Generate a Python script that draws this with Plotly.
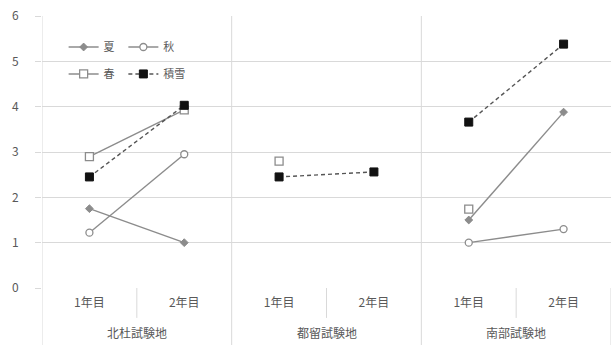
import plotly.graph_objects as go

# Sites and survey years (two years per site)
regions = ["北杜試験地", "都留試験地", "南部試験地"]
years = ["1年目", "2年目"]

# Values per (site, year), in the order 北杜1, 北杜2, 都留1, 都留2, 南部1, 南部2
summer = [1.75, 1.0, None, None, 1.5, 3.88]     # 夏
autumn = [1.22, 2.95, None, None, 1.0, 1.3]     # 秋
spring = [2.9, 3.93, 2.8, None, 1.74, None]     # 春
snow = [2.45, 4.03, 2.45, 2.56, 3.66, 5.38]     # 積雪

FONT = "Noto Sans CJK JP, Noto Sans, sans-serif"
TXT = "#595959"
GRID = "#d9d9d9"
LINE = "#8c8c8c"

series = [
    dict(name="夏", y=summer, legend="legend",
         marker=dict(symbol="diamond", size=6, color=LINE, line=dict(color=LINE, width=1)),
         line=dict(color=LINE, width=1.4)),
    dict(name="秋", y=autumn, legend="legend2",
         marker=dict(symbol="circle", size=7, color="white", line=dict(color=LINE, width=1.3)),
         line=dict(color=LINE, width=1.4)),
    dict(name="春", y=spring, legend="legend3",
         marker=dict(symbol="square", size=8, color="white", line=dict(color=LINE, width=1.3)),
         line=dict(color=LINE, width=1.4)),
    dict(name="積雪", y=snow, legend="legend4",
         marker=dict(symbol="square", size=8, color="#111111", line=dict(color="#111111", width=1)),
         line=dict(color="#555555", width=1.4, dash="4px,3px")),
]

n_years = len(years)
positions = list(range(len(regions) * n_years))

fig = go.Figure()
for s in series:
    for r in range(len(regions)):
        xs = positions[r * n_years:(r + 1) * n_years]
        ys = s["y"][r * n_years:(r + 1) * n_years]
        fig.add_trace(go.Scatter(
            x=xs, y=ys, mode="lines+markers", name=s["name"],
            legendgroup=s["name"], showlegend=(r == 0), legend=s["legend"],
            marker=s["marker"], line=s["line"], cliponaxis=False,
        ))

# Separators: full-height lines between sites, short ones between years
shapes = []
bottom = -0.21
for r in range(1, len(regions)):
    xb = r * n_years - 0.5
    shapes.append(dict(type="line", xref="x", yref="paper", x0=xb, x1=xb, y0=bottom, y1=1,
                       line=dict(color=GRID, width=1)))
for r in range(len(regions)):
    xb = r * n_years + 0.5
    shapes.append(dict(type="line", xref="x", yref="paper", x0=xb, x1=xb, y0=-0.11, y1=0,
                       line=dict(color=GRID, width=1)))
shapes.append(dict(type="line", xref="x", yref="paper", x0=-0.5, x1=-0.5, y0=bottom, y1=1,
                   line=dict(color=GRID, width=1)))
shapes.append(dict(type="line", xref="x", yref="paper", x0=len(positions) - 0.5,
                   x1=len(positions) - 0.5, y0=bottom, y1=0, line=dict(color=GRID, width=1)))

# Site names below the year labels
annotations = [
    dict(x=r * n_years + (n_years - 1) / 2, y=-0.165, xref="x", yref="paper",
         text=name, showarrow=False, yanchor="middle",
         font=dict(family=FONT, size=12, color=TXT))
    for r, name in enumerate(regions)
]

legend_style = dict(bgcolor="rgba(0,0,0,0)", font=dict(family=FONT, size=11, color=TXT),
                    yanchor="middle", xanchor="left", itemwidth=30)

fig.update_layout(
    width=613, height=345,
    margin=dict(l=42, r=2, t=16, b=57),
    paper_bgcolor="white", plot_bgcolor="white",
    font=dict(family=FONT, color=TXT),
    shapes=shapes, annotations=annotations,
    legend=dict(x=0.038, y=0.886, **legend_style),
    legend2=dict(x=0.143, y=0.886, **legend_style),
    legend3=dict(x=0.038, y=0.787, **legend_style),
    legend4=dict(x=0.143, y=0.787, **legend_style),
    xaxis=dict(range=[-0.5, len(positions) - 0.5], tickvals=positions,
               ticktext=years * len(regions), showgrid=False, zeroline=False,
               showline=False, ticks="", ticklabelstandoff=6,
               tickfont=dict(family=FONT, size=12, color=TXT)),
    yaxis=dict(range=[0, 6], dtick=1, showgrid=True, gridcolor=GRID, gridwidth=1,
               zeroline=False, showline=False, ticks="outside", ticklen=6, tickcolor=GRID,
               tickfont=dict(family=FONT, size=12, color=TXT), ticklabelstandoff=14),
)

fig.write_html("out.html")
